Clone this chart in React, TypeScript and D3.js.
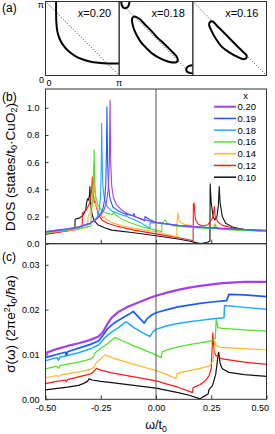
import React, { useEffect, useRef } from 'react';
import * as d3 from 'd3';

type Pt = [number, number];

// doping levels, legend order
const dopings = ['0.20', '0.19', '0.18', '0.16', '0.14', '0.12', '0.10'];
const colors = ['#a040f0', '#1a5cff', '#20a8ff', '#55e02a', '#ffb533', '#ff1a1a', '#111111'];

// (b) DOS vs omega/t0
const dos020: Pt[] = [[-0.5,0.09],[-0.45,0.1],[-0.4,0.11],[-0.35,0.125],[-0.3,0.15],[-0.27,0.18],[-0.25,0.21],[-0.235,0.25],[-0.225,0.3],[-0.216,0.4],[-0.211,0.6],[-0.208,1.056],[-0.205,0.6],[-0.2,0.42],[-0.193,0.34],[-0.18,0.29],[-0.16,0.255],[-0.14,0.23],[-0.1,0.2],[-0.05,0.175],[0,0.157],[0.05,0.145],[0.1,0.135],[0.2,0.122],[0.3,0.112],[0.4,0.104],[0.5,0.097]];
const dos019: Pt[] = [[-0.5,0.088],[-0.45,0.098],[-0.4,0.108],[-0.35,0.123],[-0.3,0.15],[-0.27,0.18],[-0.25,0.22],[-0.24,0.26],[-0.232,0.33],[-0.227,0.45],[-0.224,0.7],[-0.222,1.007],[-0.219,0.6],[-0.215,0.42],[-0.208,0.33],[-0.195,0.27],[-0.17,0.24],[-0.15,0.225],[-0.12,0.212],[-0.103,0.208],[-0.1,0.222],[-0.095,0.2],[-0.07,0.182],[-0.051,0.168],[-0.05,0.2],[-0.03,0.178],[0,0.158],[0.1,0.136],[0.2,0.123],[0.3,0.113],[0.4,0.105],[0.5,0.098]];
const dos018: Pt[] = [[-0.5,0.085],[-0.45,0.095],[-0.4,0.105],[-0.35,0.12],[-0.3,0.145],[-0.28,0.17],[-0.265,0.2],[-0.257,0.25],[-0.252,0.33],[-0.249,0.45],[-0.247,0.65],[-0.246,0.885],[-0.243,0.55],[-0.24,0.42],[-0.233,0.32],[-0.22,0.27],[-0.2,0.24],[-0.15,0.21],[-0.137,0.203],[-0.134,0.215],[-0.13,0.198],[-0.1,0.178],[-0.07,0.155],[-0.028,0.113],[-0.027,0.155],[0,0.152],[0.1,0.133],[0.2,0.12],[0.3,0.11],[0.4,0.102],[0.5,0.095]];
const dos016: Pt[] = [[-0.5,0.08],[-0.45,0.09],[-0.4,0.1],[-0.35,0.112],[-0.31,0.125],[-0.294,0.13],[-0.293,0.22],[-0.287,0.3],[-0.283,0.42],[-0.28,0.69],[-0.277,0.45],[-0.272,0.34],[-0.262,0.28],[-0.245,0.245],[-0.225,0.225],[-0.196,0.215],[-0.192,0.237],[-0.185,0.215],[-0.15,0.175],[-0.1,0.145],[-0.05,0.118],[0,0.1],[0.026,0.088],[0.027,0.15],[0.043,0.175],[0.05,0.15],[0.07,0.135],[0.1,0.127],[0.2,0.115],[0.26,0.11],[0.27,0.14],[0.276,0.11],[0.3,0.105],[0.4,0.097],[0.5,0.09]];
const dos014: Pt[] = [[-0.5,0.078],[-0.45,0.088],[-0.4,0.098],[-0.35,0.11],[-0.31,0.12],[-0.307,0.2],[-0.298,0.23],[-0.29,0.3],[-0.285,0.42],[-0.282,0.58],[-0.279,0.42],[-0.273,0.3],[-0.26,0.23],[-0.24,0.19],[-0.232,0.2],[-0.228,0.185],[-0.2,0.155],[-0.15,0.13],[-0.1,0.113],[-0.05,0.1],[0,0.088],[0.05,0.07],[0.094,0.05],[0.095,0.16],[0.1,0.228],[0.104,0.17],[0.115,0.15],[0.15,0.133],[0.2,0.12],[0.25,0.113],[0.262,0.125],[0.266,0.15],[0.27,0.12],[0.3,0.108],[0.4,0.099],[0.5,0.092]];
const dos012: Pt[] = [[-0.5,0.072],[-0.45,0.082],[-0.4,0.093],[-0.36,0.105],[-0.334,0.115],[-0.333,0.225],[-0.315,0.25],[-0.3,0.3],[-0.292,0.38],[-0.288,0.49],[-0.284,0.36],[-0.279,0.3],[-0.275,0.315],[-0.271,0.28],[-0.262,0.22],[-0.245,0.175],[-0.22,0.15],[-0.18,0.13],[-0.1,0.1],[0,0.072],[0.1,0.045],[0.168,0.022],[0.169,0.29],[0.172,0.3],[0.178,0.18],[0.19,0.145],[0.21,0.13],[0.235,0.14],[0.253,0.18],[0.26,0.22],[0.264,0.275],[0.268,0.2],[0.28,0.16],[0.3,0.135],[0.35,0.115],[0.4,0.105],[0.5,0.092]];
const dos010: Pt[] = [[-0.5,0.07],[-0.45,0.083],[-0.4,0.097],[-0.367,0.112],[-0.366,0.18],[-0.345,0.19],[-0.33,0.21],[-0.318,0.25],[-0.314,0.3],[-0.31,0.33],[-0.305,0.32],[-0.301,0.36],[-0.299,0.42],[-0.296,0.3],[-0.29,0.22],[-0.28,0.17],[-0.26,0.135],[-0.23,0.115],[-0.2,0.1],[-0.1,0.08],[0,0.058],[0.1,0.035],[0.15,0.02],[0.18,0.008],[0.2,0.002],[0.215,0.005],[0.235,0.012],[0.244,0.02],[0.245,0.44],[0.25,0.3],[0.258,0.2],[0.266,0.175],[0.276,0.2],[0.282,0.28],[0.286,0.42],[0.29,0.3],[0.3,0.2],[0.315,0.15],[0.35,0.12],[0.4,0.105],[0.5,0.09]];

// (c) sigma(omega)
const sig020: Pt[] = [[-0.5,0.0103],[-0.45,0.0112],[-0.4,0.0119],[-0.35,0.0125],[-0.3,0.0132],[-0.26,0.014],[-0.24,0.015],[-0.22,0.0168],[-0.2,0.0182],[-0.17,0.0195],[-0.13,0.0206],[-0.08,0.0216],[-0.03,0.0226],[0,0.0231],[0.05,0.0238],[0.1,0.0244],[0.15,0.0249],[0.2,0.0253],[0.3,0.0259],[0.4,0.0262],[0.5,0.0262]];
const sig019: Pt[] = [[-0.5,0.0093],[-0.45,0.01],[-0.41,0.0105],[-0.405,0.0098],[-0.4,0.0106],[-0.35,0.0114],[-0.3,0.0122],[-0.26,0.013],[-0.24,0.0143],[-0.22,0.0157],[-0.19,0.017],[-0.15,0.0182],[-0.12,0.019],[-0.103,0.0196],[-0.08,0.0184],[-0.053,0.017],[-0.04,0.018],[-0.02,0.0188],[0,0.0193],[0.05,0.02],[0.1,0.0206],[0.15,0.021],[0.2,0.0214],[0.25,0.0217],[0.32,0.022],[0.33,0.0234],[0.4,0.0233],[0.5,0.0229]];
const sig018: Pt[] = [[-0.5,0.0086],[-0.45,0.0093],[-0.44,0.0087],[-0.435,0.0094],[-0.35,0.0104],[-0.3,0.0112],[-0.26,0.0121],[-0.24,0.0133],[-0.21,0.0147],[-0.17,0.016],[-0.136,0.0173],[-0.1,0.016],[-0.06,0.0148],[-0.027,0.014],[-0.015,0.015],[0,0.0156],[0.05,0.0164],[0.1,0.0169],[0.15,0.0173],[0.2,0.0176],[0.25,0.0179],[0.308,0.0182],[0.31,0.0209],[0.4,0.0205],[0.5,0.0201]];
const sig016: Pt[] = [[-0.5,0.0068],[-0.45,0.0074],[-0.44,0.0069],[-0.435,0.0075],[-0.35,0.0083],[-0.3,0.0089],[-0.285,0.0093],[-0.275,0.0104],[-0.25,0.0114],[-0.22,0.0124],[-0.186,0.0138],[-0.15,0.013],[-0.1,0.0119],[-0.05,0.0109],[0,0.0099],[0.024,0.0093],[0.028,0.0106],[0.06,0.0112],[0.1,0.0117],[0.15,0.0122],[0.2,0.0126],[0.25,0.013],[0.268,0.0135],[0.273,0.018],[0.28,0.016],[0.3,0.0158],[0.4,0.0155],[0.5,0.0152]];
const sig014: Pt[] = [[-0.5,0.0048],[-0.45,0.0053],[-0.44,0.005],[-0.435,0.0054],[-0.35,0.0061],[-0.3,0.0066],[-0.28,0.0072],[-0.27,0.0082],[-0.25,0.009],[-0.231,0.0099],[-0.2,0.0093],[-0.15,0.0085],[-0.1,0.0078],[-0.05,0.0071],[0,0.0064],[0.05,0.0055],[0.09,0.0046],[0.095,0.0058],[0.15,0.0064],[0.2,0.0069],[0.24,0.0074],[0.258,0.0085],[0.266,0.013],[0.272,0.012],[0.29,0.0116],[0.4,0.0113],[0.5,0.011]];
const sig012: Pt[] = [[-0.5,0.0035],[-0.45,0.004],[-0.41,0.0043],[-0.405,0.0039],[-0.4,0.0044],[-0.35,0.005],[-0.3,0.0056],[-0.285,0.006],[-0.27,0.0069],[-0.25,0.0065],[-0.2,0.0059],[-0.1,0.005],[0,0.0041],[0.05,0.0034],[0.1,0.0027],[0.165,0.0015],[0.168,0.0026],[0.2,0.0033],[0.22,0.004],[0.24,0.0052],[0.25,0.007],[0.257,0.0148],[0.262,0.011],[0.27,0.0098],[0.3,0.009],[0.4,0.0083],[0.5,0.0078]];
const sig010: Pt[] = [[-0.5,0.0021],[-0.4,0.0027],[-0.35,0.0031],[-0.33,0.0035],[-0.31,0.004],[-0.302,0.0046],[-0.29,0.0043],[-0.25,0.004],[-0.2,0.0037],[-0.1,0.0031],[0,0.0025],[0.1,0.0015],[0.15,0.0009],[0.2,0.0001],[0.215,0.0006],[0.236,0.0012],[0.24,0.0022],[0.255,0.003],[0.27,0.0055],[0.28,0.0095],[0.284,0.0105],[0.29,0.008],[0.3,0.0068],[0.33,0.006],[0.4,0.0055],[0.5,0.0051]];

const dosSeries = [dos020, dos019, dos018, dos016, dos014, dos012, dos010];
const sigSeries = [sig020, sig019, sig018, sig016, sig014, sig012, sig010];

const xTicks = [-0.5, -0.25, 0, 0.25, 0.5];
const dosTicks = [0, 0.2, 0.4, 0.6, 0.8, 1.0];
const sigTicks = [0, 0.01, 0.02, 0.03];

// (a) Fermi surfaces, kx, ky in units of pi
const fsLabels = ['x=0.20', 'x=0.18', 'x=0.16'];
const fs020: Pt[] = [[0.144,1],[0.144,0.85],[0.147,0.72],[0.16,0.6],[0.19,0.5],[0.24,0.41],[0.31,0.33],[0.41,0.26],[0.5,0.22],[0.6,0.19],[0.72,0.172],[0.85,0.163],[1,0.163]];
const fs018Main: Pt[] = [[0.19,0.79],[0.22,0.795],[0.27,0.77],[0.35,0.69],[0.44,0.6],[0.515,0.515],[0.6,0.44],[0.69,0.35],[0.77,0.27],[0.795,0.22],[0.79,0.19],[0.76,0.175],[0.66,0.19],[0.55,0.235],[0.45,0.295],[0.37,0.37],[0.295,0.45],[0.235,0.55],[0.19,0.66],[0.175,0.76]];
const fs018CornerA: Pt[] = [[0.03,1],[0.035,0.95],[0.06,0.915],[0.1,0.915],[0.13,0.95],[0.14,1]];
const fs018CornerB: Pt[] = [[1,0.03],[0.95,0.035],[0.915,0.06],[0.915,0.1],[0.95,0.13],[1,0.14]];
const fs016: Pt[] = [[0.235,0.725],[0.27,0.73],[0.33,0.67],[0.42,0.58],[0.5,0.5],[0.58,0.42],[0.67,0.33],[0.73,0.27],[0.725,0.235],[0.69,0.22],[0.6,0.255],[0.5,0.31],[0.39,0.39],[0.31,0.5],[0.255,0.6],[0.22,0.69]];

const FONT = '"Liberation Sans", Arial, Helvetica, sans-serif';

export default function App() {
  const svgRef = useRef<SVGSVGElement | null>(null);

  useEffect(() => {
    if (!svgRef.current) return;
    const svg = d3.select(svgRef.current);
    svg.selectAll('*').remove();
    svg.attr('font-family', FONT);

    const left = 45.5, right = 266.5;
    const x = d3.scaleLinear().domain([-0.5, 0.5]).range([left, right]);
    const yB = d3.scaleLinear().domain([0, 1.138]).range([243.7, 89]);
    const yC = d3.scaleLinear().domain([0, 0.0347]).range([399.3, 243.7]);

    const defs = svg.append('defs');

    // ---------- panel (a)
    const boxW = (right - left) / 3;
    const boxTop = 1.5, boxBot = 75.5;
    const fsCurves: { pts: Pt[]; closed: boolean }[][] = [
      [{ pts: fs020, closed: false }],
      [{ pts: fs018Main, closed: true }, { pts: fs018CornerA, closed: false }, { pts: fs018CornerB, closed: false }],
      [{ pts: fs016, closed: true }],
    ];
    fsCurves.forEach((curves, i) => {
      const bx = left + i * boxW;
      const u = d3.scaleLinear().domain([0, 1]).range([bx, bx + boxW]);
      const v = d3.scaleLinear().domain([0, 1]).range([boxBot, boxTop]);
      defs.append('clipPath').attr('id', `fsclip${i}`)
        .append('rect').attr('x', bx).attr('y', boxTop).attr('width', boxW).attr('height', boxBot - boxTop);
      const g = svg.append('g').attr('clip-path', `url(#fsclip${i})`);
      g.append('line')
        .attr('x1', u(0)).attr('y1', v(1)).attr('x2', u(1)).attr('y2', v(0))
        .attr('stroke', '#444').attr('stroke-width', 0.9).attr('stroke-dasharray', '1.2,1.6');
      curves.forEach(c => {
        const line = d3.line<Pt>().x(d => u(d[0])).y(d => v(d[1]))
          .curve(c.closed ? d3.curveCatmullRomClosed : d3.curveCatmullRom);
        g.append('path').attr('d', line(c.pts)).attr('fill', 'none')
          .attr('stroke', '#000').attr('stroke-width', 2);
      });
      svg.append('rect').attr('x', bx).attr('y', boxTop).attr('width', boxW).attr('height', boxBot - boxTop)
        .attr('fill', 'none').attr('stroke', '#333').attr('stroke-width', 1);
      svg.append('text').attr('x', bx + boxW - 8).attr('y', 17).attr('text-anchor', 'end')
        .attr('font-size', 11).text(fsLabels[i]);
    });
    svg.append('text').attr('x', 44).attr('y', 8).attr('text-anchor', 'end').attr('font-size', 9).text('π');
    svg.append('text').attr('x', 44).attr('y', 83).attr('text-anchor', 'end').attr('font-size', 9).text('0');
    svg.append('text').attr('x', 46.5).attr('y', 85.5).attr('font-size', 9).text('0');
    svg.append('text').attr('x', left + boxW).attr('y', 85.5).attr('text-anchor', 'middle').attr('font-size', 9).text('π');

    // panel letters
    svg.append('text').attr('x', 2).attr('y', 12).attr('font-size', 12).text('(a)');
    svg.append('text').attr('x', 2).attr('y', 101).attr('font-size', 12).text('(b)');
    svg.append('text').attr('x', 2).attr('y', 261).attr('font-size', 12).text('(c)');

    // ---------- panels (b) and (c)
    defs.append('clipPath').attr('id', 'clipB').append('rect')
      .attr('x', left).attr('y', yB.range()[1]).attr('width', right - left).attr('height', yB.range()[0] - yB.range()[1]);
    defs.append('clipPath').attr('id', 'clipC').append('rect')
      .attr('x', left).attr('y', yC.range()[1]).attr('width', right - left).attr('height', yC.range()[0] - yC.range()[1]);

    const order = [6, 5, 4, 3, 2, 1, 0];
    const gB = svg.append('g').attr('clip-path', 'url(#clipB)');
    const lineB = d3.line<Pt>().x(d => x(d[0])).y(d => yB(d[1]));
    order.forEach(i => {
      gB.append('path').attr('d', lineB(dosSeries[i])).attr('fill', 'none')
        .attr('stroke', colors[i]).attr('stroke-width', 1.1).attr('stroke-linejoin', 'round');
    });

    const gC = svg.append('g').attr('clip-path', 'url(#clipC)');
    const lineC = d3.line<Pt>().x(d => x(d[0])).y(d => yC(d[1]));
    const sigWidth = [2.2, 1.7, 1.5, 1.3, 1.2, 1.2, 1.2];
    order.forEach(i => {
      gC.append('path').attr('d', lineC(sigSeries[i])).attr('fill', 'none')
        .attr('stroke', colors[i]).attr('stroke-width', sigWidth[i]).attr('stroke-linejoin', 'round');
    });

    // zero line through (b) and (c)
    svg.append('line').attr('x1', x(0)).attr('x2', x(0)).attr('y1', yB.range()[1]).attr('y2', yC.range()[0])
      .attr('stroke', '#555').attr('stroke-width', 1);

    // frames
    [[yB.range()[1], yB.range()[0]], [yC.range()[1], yC.range()[0]]].forEach(([t, b]) => {
      svg.append('rect').attr('x', left).attr('y', t).attr('width', right - left).attr('height', b - t)
        .attr('fill', 'none').attr('stroke', '#333').attr('stroke-width', 1);
    });

    const styleAxis = (g: any) => {
      g.select('.domain').remove();
      g.selectAll('line').attr('stroke', '#333');
      g.selectAll('text').attr('fill', '#000').attr('font-size', 9).attr('font-family', FONT);
    };

    svg.append('g').attr('transform', `translate(0,${yB.range()[0]})`)
      .call(d3.axisBottom(x).tickValues([-0.25, 0, 0.25]).tickFormat(() => '').tickSize(-4) as any)
      .call(styleAxis);
    svg.append('g').attr('transform', `translate(${left},0)`)
      .call(d3.axisLeft(yB).tickValues(dosTicks).tickFormat(d3.format('.1f') as any).tickSize(-3).tickPadding(6) as any)
      .call(styleAxis);
    svg.append('g').attr('transform', `translate(${left},0)`)
      .call(d3.axisLeft(yC).tickValues(sigTicks).tickFormat(d3.format('.2f') as any).tickSize(-3).tickPadding(6) as any)
      .call(styleAxis);
    const xAxisC = svg.append('g').attr('transform', `translate(0,${yC.range()[0]})`)
      .call(d3.axisBottom(x).tickValues(xTicks).tickFormat((d: any) => d3.format('.2f')(d).replace('−', '-')).tickSize(-4).tickPadding(5) as any)
      .call(styleAxis);
    xAxisC.selectAll('.tick').filter((d: any) => d === 0.5).select('text')
      .attr('text-anchor', 'end').attr('x', 2);

    // axis titles
    const dosLab = svg.append('text').attr('transform', 'translate(14.5,167) rotate(-90)')
      .attr('text-anchor', 'middle').attr('font-size', 13.5);
    dosLab.append('tspan').text('DOS (states/t');
    dosLab.append('tspan').attr('font-size', 9).attr('dy', 2.5).text('0');
    dosLab.append('tspan').attr('dy', -2.5).text('·CuO');
    dosLab.append('tspan').attr('font-size', 9).attr('dy', 2.5).text('2');
    dosLab.append('tspan').attr('dy', -2.5).text(')');

    const sigLab = svg.append('text').attr('transform', 'translate(14.5,324) rotate(-90)')
      .attr('text-anchor', 'middle').attr('font-size', 13.5);
    sigLab.append('tspan').text('σ(ω) (2πe');
    sigLab.append('tspan').attr('font-size', 9).attr('dy', -5).text('2');
    sigLab.append('tspan').attr('dy', 5).text('t');
    sigLab.append('tspan').attr('font-size', 9).attr('dy', 2.5).text('0');
    sigLab.append('tspan').attr('dy', -2.5).text('/');
    sigLab.append('tspan').attr('font-style', 'italic').text('ħa');
    sigLab.append('tspan').text(')');

    const xLab = svg.append('text').attr('x', x(0)).attr('y', 429).attr('text-anchor', 'middle').attr('font-size', 12.5);
    xLab.append('tspan').text('ω/t');
    xLab.append('tspan').attr('font-size', 8.5).attr('dy', 2.5).text('0');

    // legend
    const lg = svg.append('g');
    lg.append('text').attr('x', 245.5).attr('y', 99).attr('text-anchor', 'middle').attr('font-size', 9.5).text('x');
    dopings.forEach((d, i) => {
      const yy = 106.7 + i * 11.75;
      lg.append('line').attr('x1', 214).attr('x2', 236).attr('y1', yy).attr('y2', yy)
        .attr('stroke', colors[i]).attr('stroke-width', i === 0 ? 2 : 1.5);
      lg.append('text').attr('x', 237.5).attr('y', yy + 3.5).attr('font-size', 9.5).text(d);
    });
  }, []);

  return (
    <div style={{ position: 'absolute', left: 0, top: 0 }}>
      <svg ref={svgRef} width={275} height={434} style={{ display: 'block' }} />
    </div>
  );
}
